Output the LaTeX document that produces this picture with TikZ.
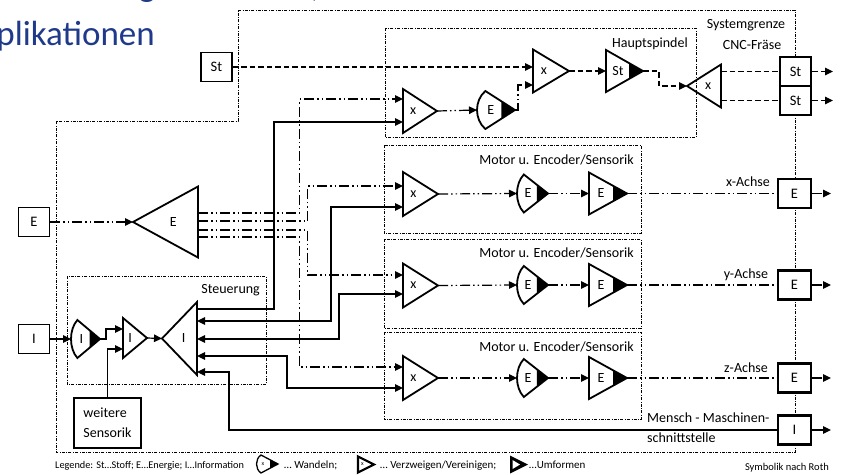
\documentclass[tikz,border=0pt]{standalone}
\usepackage{fontspec}
\setmainfont{Carlito}
\usetikzlibrary{arrows.meta,calc}
\definecolor{titleblue}{RGB}{31,58,138}
\tikzset{
  sym/.style={line width=1.8pt, line join=miter},
  con/.style={line width=1.2pt},
  st/.style={con, dash pattern=on 5.5pt off 3pt},
  en/.style={con, dash pattern=on 10pt off 3pt on 1.5pt off 3pt on 1.5pt off 3pt},
  inf/.style={con},
  bnd/.style={line width=0.6pt, dash pattern=on 3pt off 1.5pt on 0.6pt off 1.5pt},
  arr/.style={-{Triangle[length=8pt,width=7.5pt]}},
  darr/.style={{Triangle[length=8pt,width=7.5pt]}-{Triangle[length=8pt,width=7.5pt]}},
  lbl/.style={font=\fontsize{14}{16}\selectfont, inner sep=0pt},
  txt/.style={font=\fontsize{14}{20}\selectfont, inner sep=0pt},
  leg/.style={font=\fontsize{11}{12}\selectfont, inner sep=0pt, anchor=base west},
  box/.style={draw, line width=1.8pt, fill=white, minimum width=31pt, minimum height=29pt, inner sep=0pt, font=\fontsize{14.5}{16}\selectfont},
  pics/rtri/.style n args={3}{code={
    \draw[sym] (0,{-#2/2}) -- (#1,0) -- (0,{#2/2}) -- cycle;
    \node[lbl] at ({#1*0.3},0) {#3};
    \coordinate (-in) at (0,0);
    \coordinate (-tip) at (#1,0);
  }},
  pics/ltri/.style n args={3}{code={
    \draw[sym] (0,0) -- (#1,{-#2/2}) -- (#1,{#2/2}) -- cycle;
    \node[lbl] at ({#1*0.62},0) {#3};
    \coordinate (-apex) at (0,0);
  }},
  pics/umf/.style n args={3}{code={
    \draw[sym] (0,{-#2/2}) -- (#1,0) -- (0,{#2/2}) -- cycle;
    \fill ({#1-14},{-#2/2*14/#1}) -- (#1,0) -- ({#1-14},{#2/2*14/#1}) -- cycle;
    \node[lbl] at (12,0) {#3};
    \coordinate (-in) at (0,0);
    \coordinate (-tip) at (#1,0);
  }},
  pics/wand/.style n args={3}{code={
    \draw[sym] ({0.22*#1},{-#2/2}) -- (#1,0) -- ({0.22*#1},{#2/2})
       .. controls ({-0.073*#1},{#2/4}) and ({-0.073*#1},{-#2/4}) .. cycle;
    \fill ({0.64*#1},{-#2/2*0.36/0.78}) -- (#1,0) -- ({0.64*#1},{#2/2*0.36/0.78}) -- cycle;
    \node[lbl] at ({#1*0.36},0) {#3};
    \coordinate (-in) at (0,0);
    \coordinate (-tip) at (#1,0);
  }},
}
\begin{document}
\begin{tikzpicture}[x=1pt,y=-1pt]
\useasboundingbox (0,0) rectangle (843,474);
\clip (0,0) rectangle (843,474);

% title (cut off)
\node[anchor=base east, font=\fontsize{35}{35}\selectfont, text=titleblue, inner sep=0pt] (t1) at (322,-4) {Werkstoffeigenschaften)};
\node[anchor=base east, font=\fontsize{35}{35}\selectfont, text=titleblue, inner sep=0pt] (t2) at (155,45) {Applikationen};

% boundaries
\draw[bnd] (238,10) -- (795,10) -- (795,452) -- (56,452) -- (56,121) -- (238,121) -- cycle;
\draw[bnd] (385,28) rectangle (696,137);
\draw[bnd] (384,145) rectangle (641,233);
\draw[bnd] (384,239) rectangle (641,328);
\draw[bnd] (384,332) rectangle (641,419);
\draw[bnd] (67,276) rectangle (266,384);

% labels
\node[txt, anchor=east] (lhs) at (688,44) {Hauptspindel};
\node[txt] (lsg) at (746,25) {Systemgrenze};
\node[txt] (lcnc) at (752,45) {CNC-Fräse};
\node[txt, anchor=east] (lm1) at (634,160) {Motor u. Encoder/Sensorik};
\node[txt, anchor=east] (lm2) at (634,253) {Motor u. Encoder/Sensorik};
\node[txt, anchor=east] (lm3) at (634,347) {Motor u. Encoder/Sensorik};
\node[txt] (lx) at (748,182) {x-Achse};
\node[txt] (ly) at (746,275) {y-Achse};
\node[txt] (lz) at (746,368) {z-Achse};
\node[txt, anchor=east] (lst) at (260,290) {Steuerung};
\node[txt, anchor=west, align=left] (lmms) at (647,428) {Mensch - Maschinen-\\schnittstelle};

% boxes
\node[box] (stIn) at (216.5,67) {St};
\node[box] (eIn) at (34,222) {E};
\node[box] (iIn) at (34,339) {I};
\node[box, minimum width=67pt, minimum height=50pt, align=left, font=\fontsize{14}{20}\selectfont] (ws) at (107.5,423) {weitere\\Sensorik};
\node[box, line width=2.6pt] (stO1) at (795.5,71.5) {St};
\node[box, line width=2.6pt] (stO2) at (795.5,100.5) {St};
\node[box, minimum width=33pt, line width=2.2pt] (eX) at (794.5,193.5) {E};
\node[box, minimum width=33pt, line width=2.2pt] (eY) at (794.5,285) {E};
\node[box, minimum width=33pt, line width=2.2pt] (eZ) at (794.5,378) {E};
\node[box, minimum width=33pt, line width=2.2pt] (iM) at (794.5,430) {I};

% free ends
\coordinate (oS1) at (833,71.5);
\coordinate (oS2) at (833,100.5);
\coordinate (oEX) at (831,193.5);
\coordinate (oEY) at (831,285);
\coordinate (oEZ) at (831,378);
\coordinate (oIM) at (831,430);

% symbols
\pic (hs1) at (403,111) {rtri={34}{44}{x}};
\pic (hsE) at (477,110) {wand={38}{38}{E}};
\pic (hs2) at (533,71) {rtri={36}{43}{x}};
\pic (hsS) at (606,71) {umf={37}{42}{St}};
\pic (xl) at (687,86) {ltri={34}{43}{x}};

\pic (xa) at (403,194) {rtri={35}{44}{x}};
\pic (xaE) at (517,193.5) {wand={31}{38}{E}};
\pic (xaU) at (589,193.5) {umf={38}{42}{E}};
\pic (ya) at (403,285.5) {rtri={35}{44}{x}};
\pic (yaE) at (517,285) {wand={31}{38}{E}};
\pic (yaU) at (589,285) {umf={38}{42}{E}};
\pic (za) at (403,378) {rtri={35}{44}{x}};
\pic (zaE) at (517,378) {wand={31}{38}{E}};
\pic (zaU) at (589,378) {umf={38}{42}{E}};

\pic (et) at (133,222) {ltri={65}{71}{E}};
\pic (it) at (162,338.5) {ltri={35}{73}{I}};
\pic (iw) at (71,339) {wand={29}{38}{I}};
\pic (si) at (123,338) {rtri={24}{40}{I}};

% connection points
\coordinate (hs1a) at (403,99);  \coordinate (hs1b) at (403,122);
\coordinate (hs2a) at (533,67);  \coordinate (hs2b) at (533,85);
\coordinate (xaa) at (403,186);  \coordinate (xab) at (403,207);
\coordinate (yaa) at (403,275);  \coordinate (yab) at (403,294);
\coordinate (zaa) at (403,367);  \coordinate (zab) at (403,388);
\coordinate (xlo1) at (721,71.5); \coordinate (xlo2) at (721,100.5);
\coordinate (eto1) at (198,213); \coordinate (eto2) at (198,221);
\coordinate (eto3) at (198,230); \coordinate (eto4) at (198,237);
\coordinate (ito0) at (197,309); \coordinate (ito1) at (197,321);
\coordinate (ito2) at (197,339); \coordinate (ito3) at (197,356);
\coordinate (ito4) at (197,372);
\coordinate (sia) at (123,329);  \coordinate (sib) at (123,349);
\coordinate (colA) at (299.5,0); \coordinate (colB) at (307.5,0);
\coordinate (colI0) at (274,0);  \coordinate (colI1) at (331,0);
\coordinate (colI2) at (339,0);  \coordinate (colI3) at (287,0);
\coordinate (colI4) at (229,0);

% Stoff
\draw[st,arr] (stIn.east) -- (hs2a);
\draw[st,arr] (hs2-tip) -- (hsS-in);
\draw[st,arr] (hsS-tip) -- ++(16,0) |- (xl-apex);
\draw[st] (xlo1) -- (stO1.west);
\draw[st] (xlo2) -- (stO2.west);
\draw[st,arr] (stO1.east) -- (oS1);
\draw[st,arr] (stO2.east) -- (oS2);

% Energie
\draw[en,arr] (eIn.east) -- (et-apex);
\draw[en,arr] (eto1) -| (colA |- hs1a) -- (hs1a);
\draw[en,arr] (eto2) -| (colB |- xaa) -- (xaa);
\draw[en,arr] (eto3) -| (colB |- yaa) -- (yaa);
\draw[en,arr] (eto4) -| (colA |- zaa) -- (zaa);
\draw[en,arr] (hs1-tip) -- (hsE-in);
\draw[en,arr] (hsE-tip) -- ++(3,0) |- (hs2b);
\draw[en,arr] (xa-tip) -- (xaE-in);
\draw[en,arr] (xaE-tip) -- (xaU-in);
\draw[en] (xaU-tip) -- (eX.west);
\draw[en,arr] (eX.east) -- (oEX);
\draw[en,arr] (ya-tip) -- (yaE-in);
\draw[en,arr] (yaE-tip) -- (yaU-in);
\draw[en] (yaU-tip) -- (eY.west);
\draw[en,arr] (eY.east) -- (oEY);
\draw[en,arr] (za-tip) -- (zaE-in);
\draw[en,arr] (zaE-tip) -- (zaU-in);
\draw[en] (zaU-tip) -- (eZ.west);
\draw[en,arr] (eZ.east) -- (oEZ);

% Information
\draw[inf,arr] (iIn.east) -- (iw-in);
\draw[inf,arr] (iw-tip) -- ++(6,0) |- (sia);
\draw[inf,arr] (ws.north) |- (sib);
\draw[inf,arr] (si-tip) -- (it-apex);
\draw[inf,arr] (ito0) -| (colI0 |- hs1b) -- (hs1b);
\draw[inf,darr] (ito1) -| (colI1 |- xab) -- (xab);
\draw[inf,darr] (ito2) -| (colI2 |- yab) -- (yab);
\draw[inf,darr] (ito3) -| (colI3 |- zab) -- (zab);
\draw[inf,arr] (iM.west) -| (colI4 |- ito4) -- (ito4);
\draw[inf,arr] (iM.east) -- (oIM);

% legend
\node[leg, font=\fontsize{10.3}{12}\selectfont] (lg1) at (55,468) {Legende: St…Stoff; E…Energie; I…Information};
\draw[line width=1.3pt] (261,455) -- (278,464) -- (261,473) .. controls (255,469) and (255,459) .. cycle;
\fill (270,459.8) -- (278,464) -- (270,468.2) -- cycle;
\node[font=\fontsize{6}{6}\selectfont, inner sep=0pt] (lgw) at (263,464) {x};
\node[leg] (lg2) at (284,468) {… Wandeln;};
\draw[line width=2.2pt, line join=miter] (358,456.5) -- (374,464.5) -- (358,472.5) -- cycle;
\node[font=\fontsize{6}{6}\selectfont, inner sep=0pt] (lgv) at (362.5,464.5) {x};
\node[leg] (lg3) at (380,468) {… Verzweigen/Vereinigen;};
\fill (510,455.5) -- (528,464.5) -- (510,473.5) -- cycle;
\fill[white] (512.5,460) -- (520,464.5) -- (512.5,469) -- cycle;
\node[leg] (lg4) at (529,468) {…Umformen};
\node[font=\fontsize{10.5}{11}\selectfont, inner sep=0pt, anchor=base east] (lg5) at (829,470) {Symbolik nach Roth};
\end{tikzpicture}
\end{document}
